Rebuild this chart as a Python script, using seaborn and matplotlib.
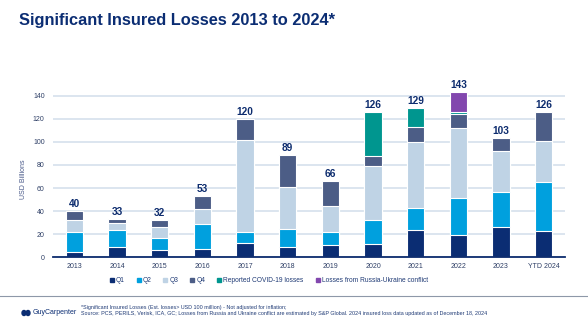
import matplotlib
matplotlib.use("Agg")
import matplotlib.pyplot as plt
from matplotlib.lines import Line2D
from matplotlib.patches import Ellipse
import numpy as np
import pandas as pd
import seaborn as sns

# Insured losses by year (USD billions)
years = ["2013", "2014", "2015", "2016", "2017", "2018", "2019", "2020",
         "2021", "2022", "2023", "YTD 2024"]
q1 = [4.5, 9, 6, 7, 12, 9, 10.5, 11.5, 24, 19.5, 26, 23]
q2 = [17, 15, 10.5, 21.5, 10, 15.5, 11.5, 20.5, 19, 31.5, 31, 42]
q3 = [11, 6, 9.5, 13.5, 80, 36, 22.5, 47, 56.5, 61, 35, 36]
q4 = [7.5, 3, 6, 11, 18, 28.5, 21.5, 9, 13.5, 12, 11, 25]
covid = [0, 0, 0, 0, 0, 0, 0, 38, 16, 2, 0, 0]
russia = [0, 0, 0, 0, 0, 0, 0, 0, 0, 17, 0, 0]

series_names = ["Q1", "Q2", "Q3", "Q4", "Reported COVID-19 losses",
                "Losses from Russia-Ukraine conflict"]
series_values = [q1, q2, q3, q4, covid, russia]
colors = ["#0B2D73", "#00A0DE", "#BFD3E5", "#4C5D86", "#00968F", "#8247AE"]

navy = "#0D2C6E"
font = "Liberation Sans"
plt.rcParams["font.family"] = [font, "DejaVu Sans"]

fig = plt.figure(figsize=(5.88, 3.23), dpi=100)
ax = fig.add_axes([53 / 588, 1 - 257.3 / 323, 512 / 588, 173.1 / 323])

# Stacked bars: draw cumulative heights from the top layer down
cum = np.cumsum(np.array(series_values, dtype=float), axis=0)
for i in range(len(series_names) - 1, -1, -1):
    df = pd.DataFrame({"year": years, "value": cum[i]})
    sns.barplot(data=df, x="year", y="value", color=colors[i], width=0.4,
                edgecolor="white", linewidth=0.8, saturation=1, ax=ax,
                zorder=3)

totals = cum[-1]
for x, t in enumerate(totals):
    ax.annotate(f"{t:.0f}", (x, t), xytext=(0, 1.5), textcoords="offset points",
                ha="center", va="bottom", fontsize=7.3, fontweight="bold",
                color=navy, zorder=5)

ax.set_ylim(0, 150)
ax.set_xlim(-0.5, len(years) - 0.5)
ax.set_yticks(np.arange(0, 141, 20))
ax.grid(axis="y", color="#DCE5EF", linewidth=1.4, zorder=0)
ax.set_axisbelow(True)
for side in ["top", "right", "left"]:
    ax.spines[side].set_visible(False)
ax.spines["bottom"].set_color(navy)
ax.spines["bottom"].set_linewidth(1.3)
ax.spines["bottom"].set_zorder(6)
ax.tick_params(axis="both", length=0, labelsize=5, labelcolor="#2E3F66", pad=4)
ax.tick_params(axis="y", pad=6)
ax.set_xlabel("")
ax.set_ylabel("USD Billions", fontsize=5, color="#4A5A8A", labelpad=8)
ax.yaxis.set_label_coords(-0.05, 0.45)

# Legend
handles = [Line2D([0], [0], marker="s", linestyle="", markersize=2.2,
                  markerfacecolor=c, markeredgecolor=c) for c in colors]
fig.legend(handles, series_names, loc="center", ncol=6,
           bbox_to_anchor=(268 / 588, 1 - 281 / 323), frameon=False,
           fontsize=4.8, labelcolor="#1F3A75", handletextpad=0.1,
           columnspacing=1.6, handlelength=1.0)

# Title
fig.text(19 / 588, 1 - 21 / 323, "Significant Insured Losses 2013 to 2024*",
         fontsize=11.8, fontweight="bold", color="#0B2D73", ha="left",
         va="center")

# Footer rule
fig.add_artist(Line2D([0, 1], [1 - 296 / 323, 1 - 296 / 323],
                      color="#8E98A8", linewidth=0.8))

# Footer logo
for cx in (24, 28):
    fig.add_artist(Ellipse((cx / 588, 1 - 313 / 323), 4 / 588, 5 / 323,
                           color="#0B2D73"))
fig.text(33 / 588, 1 - 313 / 323, "GuyCarpenter", fontsize=5,
         color="#0B2D73", ha="left", va="center")

# Footnote
fig.text(81 / 588, 1 - 307.5 / 323,
         "*Significant Insured Losses (Est. losses> USD 100 million) - "
         "Not adjusted for inflation;",
         fontsize=3.9, color="#1F3A75", ha="left", va="center")
fig.text(81 / 588, 1 - 313.5 / 323,
         "Source: PCS, PERILS, Verisk, ICA, GC; Losses from Russia and Ukraine "
         "conflict are estimated by S&P Global. 2024 insured loss data updated "
         "as of December 18, 2024",
         fontsize=3.9, color="#1F3A75", ha="left", va="center")

fig.savefig("out.png", dpi=100)
